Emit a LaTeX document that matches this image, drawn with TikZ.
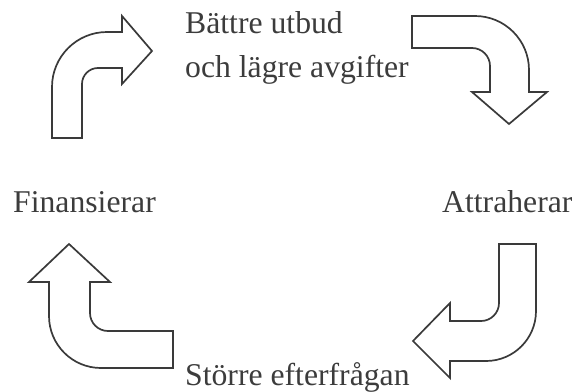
\documentclass[tikz,border=0pt]{standalone}
\usepackage{fontspec}
\setmainfont{Liberation Serif}
\usepackage{xcolor}
\definecolor{inkgray}{HTML}{3A3A3A}
\definecolor{textgray}{HTML}{3C3C3C}
\usetikzlibrary{positioning}

\begin{document}
\begin{tikzpicture}[x=1pt,y=-1pt,
  blockarrow/.style={draw=inkgray, line width=1.7pt, line join=miter, fill=white},
  lbl/.style={anchor=base west, inner sep=0pt, text=textgray,
    font=\fontsize{31.7}{38}\selectfont}]
\useasboundingbox (0,0) rectangle (572,391);

% labels
\node[lbl] (better1) at (185,33) {Bättre utbud};
\node[lbl] (better2) at (185,77) {och lägre avgifter};
\node[lbl] (attract) at (442,212) {Attraherar};
\node[lbl] (demand) at (185,385) {Större efterfrågan};
\node[lbl] (finance) at (13,212) {Finansierar};

% top left, turning right
\draw[blockarrow] (52,138) -- (82,138)
  [rounded corners=16] -- (82,68) [sharp corners] -- (122,68)
  -- (122,84) -- (152,51) -- (122,16) -- (122,32)
  [rounded corners=55] -- (52,32) [sharp corners] -- cycle;

% top right, turning down
\draw[blockarrow] (412,16)
  [rounded corners=54] -- (529,16) [sharp corners] -- (529,92)
  -- (547,92) -- (509,124) -- (472,92) -- (490,92)
  [rounded corners=18] -- (490,48) [sharp corners] -- (412,48) -- cycle;

% bottom right, turning left
\draw[blockarrow] (499,244)
  [rounded corners=18] -- (499,321) [sharp corners] -- (450,321)
  -- (450,303) -- (413,341) -- (450,378) -- (450,361)
  [rounded corners=50] -- (536,361) [sharp corners] -- (536,244) -- cycle;

% bottom left, turning up
\draw[blockarrow] (69,244) -- (110,282) -- (90,282)
  [rounded corners=18] -- (90,331) [sharp corners] -- (173,331)
  -- (173,368) [rounded corners=52] -- (49,368) [sharp corners] -- (49,282)
  -- (29,282) -- cycle;
\end{tikzpicture}
\end{document}
